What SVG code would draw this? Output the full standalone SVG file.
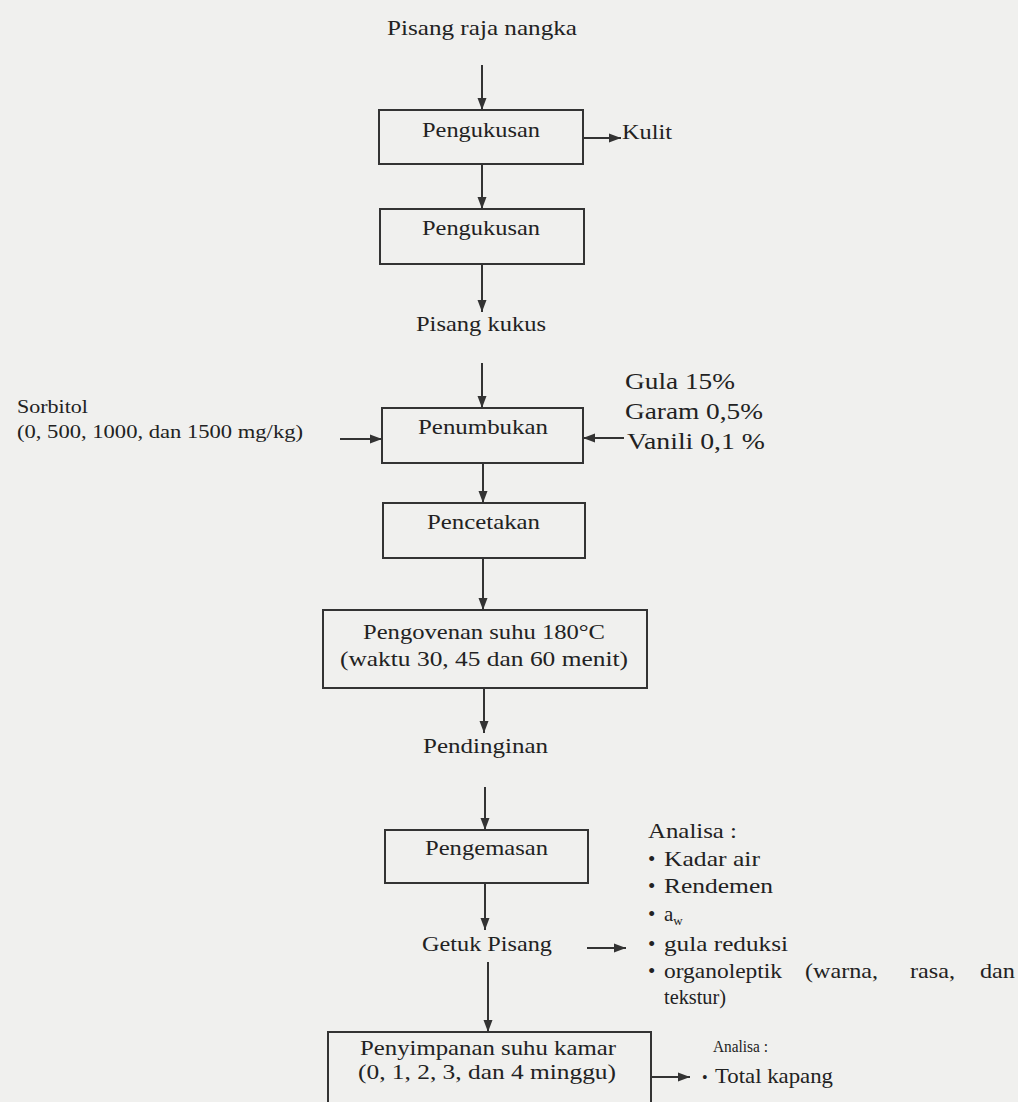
<svg xmlns="http://www.w3.org/2000/svg" width="1018" height="1102" viewBox="0 0 1018 1102">
<style>
.bg{fill:#f0f0ee}
.box{fill:none;stroke:#333;stroke-width:2}
.ln{fill:none;stroke:#333;stroke-width:2;marker-end:url(#ah)}
text{font-family:"Liberation Serif","Times New Roman",serif;fill:#222;font-size:21px}
.big{font-size:24px}
.sm{font-size:19px}
.xs{font-size:16px}
</style>
<defs>
<marker id="ah" viewBox="0 0 12 10" refX="12" refY="5" markerWidth="12" markerHeight="10" markerUnits="userSpaceOnUse" orient="auto">
<path d="M0,0.5 L12,5 L0,9.5 z" fill="#333"/>
</marker>
</defs>
<rect class="bg" x="0" y="0" width="1018" height="1102"/>

<g id="connectors">
<line class="ln" x1="482" y1="65" x2="482" y2="110"/>
<line class="ln" x1="583" y1="138" x2="621" y2="138"/>
<line class="ln" x1="482" y1="164" x2="482" y2="209"/>
<line class="ln" x1="482" y1="264" x2="482" y2="312"/>
<line class="ln" x1="482" y1="363" x2="482" y2="408"/>
<line class="ln" x1="340" y1="439" x2="382" y2="439"/>
<line class="ln" x1="624" y1="438" x2="583" y2="438"/>
<line class="ln" x1="483" y1="463" x2="483" y2="503"/>
<line class="ln" x1="483" y1="558" x2="483" y2="610"/>
<line class="ln" x1="484" y1="688" x2="484" y2="733"/>
<line class="ln" x1="485" y1="787" x2="485" y2="830"/>
<line class="ln" x1="485" y1="883" x2="485" y2="930"/>
<line class="ln" x1="587" y1="948" x2="626" y2="948"/>
<line class="ln" x1="488" y1="962" x2="488" y2="1032"/>
<line class="ln" x1="651" y1="1077" x2="690" y2="1077"/>
</g>

<g id="n-start"><text x="387" y="35" textLength="190" lengthAdjust="spacingAndGlyphs">Pisang raja nangka</text></g>

<g id="n-pengukusan1">
<rect class="box" x="379" y="110" width="204" height="54"/>
<text x="422" y="137" textLength="118" lengthAdjust="spacingAndGlyphs">Pengukusan</text>
</g>
<g id="n-kulit"><text x="622" y="139" textLength="50" lengthAdjust="spacingAndGlyphs">Kulit</text></g>

<g id="n-pengukusan2">
<rect class="box" x="380" y="209" width="204" height="55"/>
<text x="422" y="235" textLength="118" lengthAdjust="spacingAndGlyphs">Pengukusan</text>
</g>

<g id="n-pisangkukus"><text x="416" y="331" textLength="130" lengthAdjust="spacingAndGlyphs">Pisang kukus</text></g>

<g id="n-sorbitol">
<text class="sm" x="17" y="413" textLength="71" lengthAdjust="spacingAndGlyphs">Sorbitol</text>
<text class="sm" x="17" y="438" textLength="286" lengthAdjust="spacingAndGlyphs">(0, 500, 1000, dan 1500 mg/kg)</text>
</g>

<g id="n-bahan">
<text class="big" x="625" y="389" textLength="110" lengthAdjust="spacingAndGlyphs">Gula 15%</text>
<text class="big" x="625" y="419" textLength="138" lengthAdjust="spacingAndGlyphs">Garam 0,5%</text>
<text class="big" x="627" y="449" textLength="138" lengthAdjust="spacingAndGlyphs">Vanili 0,1 %</text>
</g>

<g id="n-penumbukan">
<rect class="box" x="382" y="408" width="201" height="55"/>
<text x="418" y="434" textLength="130" lengthAdjust="spacingAndGlyphs">Penumbukan</text>
</g>

<g id="n-pencetakan">
<rect class="box" x="383" y="503" width="202" height="55"/>
<text x="427" y="529" textLength="113" lengthAdjust="spacingAndGlyphs">Pencetakan</text>
</g>

<g id="n-pengovenan">
<rect class="box" x="323" y="610" width="324" height="78"/>
<text x="363" y="639" textLength="242" lengthAdjust="spacingAndGlyphs">Pengovenan suhu 180°C</text>
<text x="340" y="666" textLength="288" lengthAdjust="spacingAndGlyphs">(waktu 30, 45 dan 60 menit)</text>
</g>

<g id="n-pendinginan"><text x="423" y="753" textLength="125" lengthAdjust="spacingAndGlyphs">Pendinginan</text></g>

<g id="n-pengemasan">
<rect class="box" x="385" y="830" width="203" height="53"/>
<text x="425" y="855" textLength="123" lengthAdjust="spacingAndGlyphs">Pengemasan</text>
</g>

<g id="n-getuk"><text x="422" y="951" textLength="130" lengthAdjust="spacingAndGlyphs">Getuk Pisang</text></g>

<g id="n-analisa1">
<text x="648" y="838" textLength="89" lengthAdjust="spacingAndGlyphs">Analisa :</text>
<text x="648" y="866">•</text><text x="664" y="866" textLength="96" lengthAdjust="spacingAndGlyphs">Kadar air</text>
<text x="648" y="893">•</text><text x="664" y="893" textLength="109" lengthAdjust="spacingAndGlyphs">Rendemen</text>
<text x="648" y="921">•</text><text x="664" y="921">a<tspan font-size="13" dy="4">w</tspan></text>
<text x="648" y="951">•</text><text x="664" y="951" textLength="124" lengthAdjust="spacingAndGlyphs">gula reduksi</text>
<text x="648" y="978">•</text>
<text x="664" y="978" textLength="118" lengthAdjust="spacingAndGlyphs">organoleptik</text>
<text x="805" y="978" textLength="73" lengthAdjust="spacingAndGlyphs">(warna,</text>
<text x="910" y="978" textLength="45" lengthAdjust="spacingAndGlyphs">rasa,</text>
<text x="980" y="978" textLength="35" lengthAdjust="spacingAndGlyphs">dan</text>
<text x="664" y="1004" textLength="62" lengthAdjust="spacingAndGlyphs">tekstur)</text>
</g>

<g id="n-penyimpanan">
<rect class="box" x="328" y="1032" width="323" height="90"/>
<text x="360" y="1055" textLength="256" lengthAdjust="spacingAndGlyphs">Penyimpanan suhu kamar</text>
<text x="358" y="1079" textLength="258" lengthAdjust="spacingAndGlyphs">(0, 1, 2, 3, dan 4 minggu)</text>
</g>

<g id="n-analisa2">
<text class="xs" x="713" y="1052" textLength="55" lengthAdjust="spacingAndGlyphs">Analisa :</text>
<text class="xs" x="702" y="1083">•</text>
<text x="715" y="1083" font-size="20" textLength="118" lengthAdjust="spacingAndGlyphs">Total kapang</text>
</g>
</svg>
